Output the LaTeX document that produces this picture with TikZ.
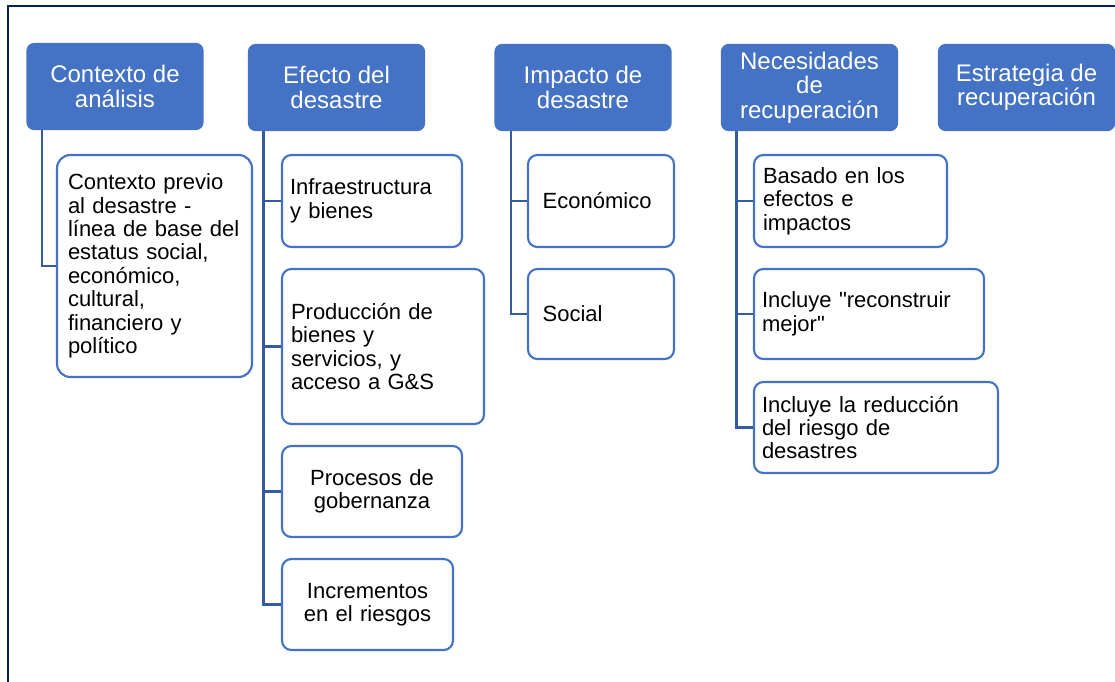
\documentclass[tikz,border=0pt]{standalone}
\usepackage{fontspec}
\setmainfont{Liberation Sans}[Ligatures=TeXOff]
\definecolor{hdr}{HTML}{4472C4}
\definecolor{conn}{RGB}{52,90,160}
\definecolor{navy}{HTML}{002060}
\tikzset{
  hbox/.style={fill=hdr, draw=none, rounded corners=6pt, text=white, align=center,
    minimum width=133pt, minimum height=65.5pt, inner sep=0pt,
    font=\fontsize{18}{18.4}\selectfont},
  cbox/.style={draw=hdr, line width=1.6pt, fill=white, rounded corners=7pt, text=black,
    inner ysep=0pt, font=\fontsize{16.5}{17.6}\selectfont},
  link/.style={draw=conn, line width=1.9pt},
  frame/.style={draw=navy, line width=1.6pt}
}
\begin{document}
\begin{tikzpicture}[x=0.75pt, y=-0.75pt]
\useasboundingbox (0,0) rectangle (1115,682);
\draw[frame] (8,682) -- (8,6) -- (1115,6);

% headers
\node[hbox] (h1) at (115,86.5) {Contexto de\\análisis};
\node[hbox] (h2) at (336.5,87.5) {Efecto del\\desastre};
\node[hbox] (h3) at (583,87.5) {Impacto de\\desastre};
\node[hbox] (h4) at (809.5,87.5) {Necesidades\\de\\recuperación};
\node[hbox] (h5) at (1026.5,87.5) {Estrategia de\\recuperación};

% children
\node[cbox, rounded corners=10pt, align=left, inner xsep=8.25pt, text width=129.75pt, minimum height=166.5pt] (c1) at (154.5,266)
  {Contexto previo\\al desastre -\\línea de base del\\estatus social,\\económico,\\cultural,\\financiero y\\político};

\node[cbox, align=left, inner xsep=6pt, text width=123pt, minimum height=69pt] (e1) at (372,201)
  {Infraestructura\\y bienes};
\node[cbox, align=left, inner xsep=6.75pt, text width=138pt, minimum height=116.25pt] (e2) at (383,346.5)
  {Producción de\\bienes y\\servicios, y\\acceso a G\&S};
\node[cbox, align=center, inner xsep=0pt, text width=135pt, minimum height=68.25pt] (e3) at (372,491.5)
  {Procesos de\\gobernanza};
\node[cbox, align=center, inner xsep=0pt, text width=128.25pt, minimum height=68.25pt] (e4) at (367.5,604.5)
  {Incrementos\\en el riesgos};

\node[cbox, align=left, inner xsep=11pt, text width=87.5pt, minimum height=69pt] (i1) at (601,201)
  {Económico};
\node[cbox, align=left, inner xsep=11pt, text width=87.5pt, minimum height=67.5pt] (i2) at (601,314)
  {Social};

\node[cbox, align=left, inner xsep=6.75pt, text width=131.25pt, minimum height=69pt] (n1) at (850.5,201)
  {Basado en los\\efectos e\\impactos};
\node[cbox, align=left, inner xsep=6pt, text width=160.5pt, minimum height=67.5pt] (n2) at (869,314)
  {Incluye "reconstruir\\mejor"};
\node[cbox, align=left, inner xsep=6pt, text width=171pt, minimum height=68.25pt] (n3) at (876,427.5)
  {Incluye la reducción\\del riesgo de\\desastres};

% connectors
\draw[link] ([xshift=12pt]h1.south west) |- (c1.west);
\draw[link] ([xshift=12pt]h2.south west) |- (e1.west);
\draw[link] ([xshift=12pt]h2.south west) |- (e2.west);
\draw[link] ([xshift=12pt]h2.south west) |- (e3.west);
\draw[link] ([xshift=12pt]h2.south west) |- (e4.west);
\draw[link] ([xshift=12.75pt]h3.south west) |- (i1.west);
\draw[link] ([xshift=12.75pt]h3.south west) |- (i2.west);
\draw[link] ([xshift=12pt]h4.south west) |- (n1.west);
\draw[link] ([xshift=12pt]h4.south west) |- (n2.west);
\draw[link] ([xshift=12pt]h4.south west) |- (n3.west);
\end{tikzpicture}
\end{document}
